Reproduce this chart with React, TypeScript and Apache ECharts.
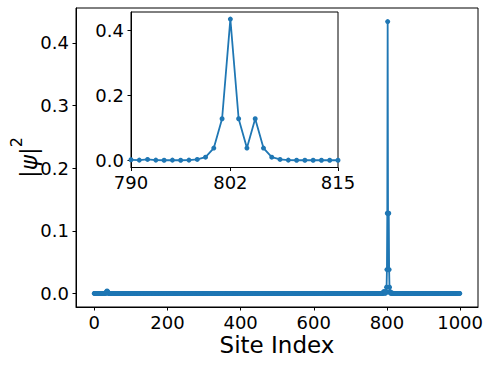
import React, { useEffect, useRef } from "react";
import * as echarts from "echarts";

// ---- data ----
const SITE_COUNT = 1000; // sites 0..999, |psi|^2 ~ 0 except where listed below
const BUMP_SITES = [32, 33, 34, 35, 36, 37, 38];
const BUMP_VALUES = [0.001, 0.002, 0.003, 0.004, 0.003, 0.002, 0.001];
const PEAK_SITES = [790, 791, 792, 793, 794, 795, 796, 797, 798, 799, 800, 801, 802, 803, 804, 805, 806, 807, 808, 809, 810, 811, 812, 813, 814, 815];
const PEAK_VALUES = [0.002, 0.001, 0.003, 0.001, 0.0005, 0.001, 0.0005, 0.001, 0.003, 0.01, 0.038, 0.128, 0.434, 0.128, 0.038, 0.128, 0.038, 0.01, 0.003, 0.001, 0.0005, 0.0005, 0.0005, 0.0005, 0.0005, 0.0005];
const MAIN_X_TICKS = [0, 200, 400, 600, 800, 1000];
const MAIN_Y_TICKS = [0.0, 0.1, 0.2, 0.3, 0.4];
const INSET_X_TICKS = [790, 802, 815];
const INSET_Y_TICKS = [0.0, 0.2, 0.4];

const COLOR = "#1f77b4";
const FONT = "DejaVu Sans";

export default function App() {
  const ref = useRef<HTMLDivElement>(null);
  useEffect(() => {
    if (!ref.current) return;
    const chart = echarts.init(ref.current, undefined, { renderer: "svg" });

    const lookup = new Map<number, number>();
    BUMP_SITES.forEach((s, i) => lookup.set(s, BUMP_VALUES[i]));
    PEAK_SITES.forEach((s, i) => lookup.set(s, PEAK_VALUES[i]));
    const mainData: [number, number][] = [];
    for (let i = 0; i < SITE_COUNT; i++) mainData.push([i, lookup.get(i) ?? 0]);
    const insetData: [number, number][] = PEAK_SITES.map((s, i) => [s, PEAK_VALUES[i]]);

    const yMin = -0.0217;
    const yMax = 0.4557;

    const labelStyle = { color: "#000", fontFamily: FONT, fontSize: 18 };
    const tickStyle = { show: true, length: 3.5, lineStyle: { color: "#000", width: 1 } };
    const lineStyle = { show: true, onZero: false, lineStyle: { color: "#000", width: 1 } };

    chart.setOption({
      animation: false,
      backgroundColor: "#fff",
      grid: [
        { left: 76, top: 8, width: 402, height: 299, show: true, borderColor: "#000", borderWidth: 1, backgroundColor: "#fff", z: 0 },
        { left: 131, top: 12, width: 207, height: 155.5, show: true, borderColor: "#000", borderWidth: 1, backgroundColor: "#fff", z: 5 },
      ],
      xAxis: [
        {
          type: "value", gridIndex: 0, min: -49.95, max: 1048.95,
          axisLine: lineStyle, axisTick: { ...tickStyle, customValues: MAIN_X_TICKS },
          axisLabel: { ...labelStyle, margin: 6, customValues: MAIN_X_TICKS, formatter: (v: number) => String(v) },
          splitLine: { show: false },
        },
        {
          type: "value", gridIndex: 1, min: 790, max: 815, z: 5,
          axisLine: lineStyle, axisTick: { ...tickStyle, customValues: INSET_X_TICKS },
          axisLabel: { ...labelStyle, margin: 6, customValues: INSET_X_TICKS, formatter: (v: number) => String(v) },
          splitLine: { show: false },
        },
      ],
      yAxis: [
        {
          type: "value", gridIndex: 0, min: yMin, max: yMax,
          axisLine: lineStyle, axisTick: { ...tickStyle, customValues: MAIN_Y_TICKS },
          axisLabel: { ...labelStyle, margin: 7, customValues: MAIN_Y_TICKS, formatter: (v: number) => v.toFixed(1) },
          splitLine: { show: false },
        },
        {
          type: "value", gridIndex: 1, min: yMin, max: yMax, z: 5,
          axisLine: lineStyle, axisTick: { ...tickStyle, customValues: INSET_Y_TICKS },
          axisLabel: { ...labelStyle, margin: 7, customValues: INSET_Y_TICKS, formatter: (v: number) => v.toFixed(1) },
          splitLine: { show: false },
        },
      ],
      graphic: [
        {
          type: "text",
          x: 277, y: 345,
          style: { text: "Site Index", fill: "#000", font: `23px '${FONT}'`, align: "center", verticalAlign: "middle" },
        },
        {
          type: "text",
          x: 24, y: 157.5,
          rotation: Math.PI / 2,
          style: {
            text: "{a||}{b|ψ}{a||}{c|2}",
            align: "center",
            verticalAlign: "middle",
            rich: {
              a: { fontFamily: FONT, fontSize: 23, fill: "#000", lineHeight: 32, verticalAlign: "bottom" },
              b: { fontFamily: FONT, fontSize: 23, fontStyle: "italic", fill: "#000", lineHeight: 32, verticalAlign: "bottom" },
              c: { fontFamily: FONT, fontSize: 16, fill: "#000", lineHeight: 16, verticalAlign: "top" },
            },
          },
        },
      ],
      series: [
        {
          type: "line", xAxisIndex: 0, yAxisIndex: 0, data: mainData,
          symbol: "circle", symbolSize: 5, showSymbol: true,
          itemStyle: { color: COLOR }, lineStyle: { color: COLOR, width: 1.8 },
          z: 2,
        },
        {
          type: "line", xAxisIndex: 1, yAxisIndex: 1, data: insetData,
          symbol: "circle", symbolSize: 5, showSymbol: true,
          itemStyle: { color: COLOR }, lineStyle: { color: COLOR, width: 1.8 },
          z: 6,
        },
      ],
    });
    return () => chart.dispose();
  }, []);
  return <div ref={ref} style={{ position: "fixed", left: 0, top: 0, width: 489, height: 367 }} />;
}
